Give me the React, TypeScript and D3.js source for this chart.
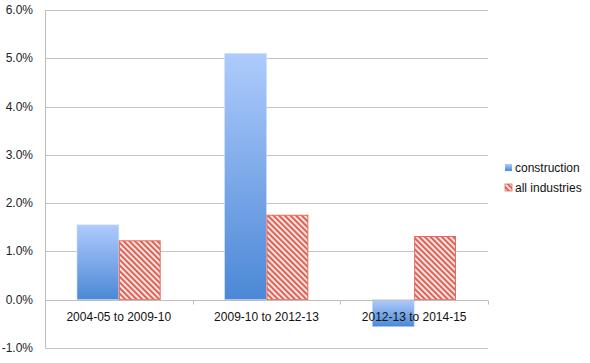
import * as d3 from 'd3';
import { useEffect, useRef } from 'react';

const categories = ['2004-05 to 2009-10', '2009-10 to 2012-13', '2012-13 to 2014-15'];
const construction = [1.55, 5.1, -0.56];
const allIndustries = [1.23, 1.76, 1.32];
const yTicks = [-1, 0, 1, 2, 3, 4, 5, 6];
const seriesNames = ['construction', 'all industries'];

const App = () => {
  const ref = useRef<SVGSVGElement>(null);

  useEffect(() => {
    const svg = d3.select(ref.current);
    svg.selectAll('*').remove();

    const left = 45, right = 488, top = 10, bottom = 348;
    const font = '"Liberation Sans", Arial, sans-serif';

    const defs = svg.append('defs');
    const grad = defs
      .append('linearGradient')
      .attr('id', 'blueGrad')
      .attr('x1', 0).attr('y1', 0).attr('x2', 0).attr('y2', 1);
    grad.append('stop').attr('offset', '0%').attr('stop-color', '#aecbfc');
    grad.append('stop').attr('offset', '100%').attr('stop-color', '#4b88d6');

    const pat = defs
      .append('pattern')
      .attr('id', 'hatch')
      .attr('patternUnits', 'userSpaceOnUse')
      .attr('width', 4)
      .attr('height', 4)
      .attr('patternTransform', 'rotate(-45)');
    pat.append('rect').attr('width', 4).attr('height', 4).attr('fill', '#fbe6e2');
    pat.append('rect').attr('width', 1.8).attr('height', 4).attr('fill', '#dc5448');

    const x = d3.scaleBand().domain(categories).range([left, right]).paddingInner(0).paddingOuter(0);
    const y = d3.scaleLinear().domain([-1, 6]).range([bottom, top]);

    // gridlines
    svg
      .append('g')
      .selectAll('line')
      .data(yTicks)
      .join('line')
      .attr('x1', left)
      .attr('x2', right)
      .attr('y1', (d) => Math.round(y(d)) + 0.5)
      .attr('y2', (d) => Math.round(y(d)) + 0.5)
      .attr('stroke', '#c4c4c4')
      .attr('stroke-width', 1);

    svg
      .append('line')
      .attr('x1', left + 0.5)
      .attr('x2', left + 0.5)
      .attr('y1', top)
      .attr('y2', bottom)
      .attr('stroke', '#bdbdbd');

    // y labels
    svg
      .append('g')
      .selectAll('text')
      .data(yTicks)
      .join('text')
      .attr('x', 33)
      .attr('y', (d) => y(d) + 4)
      .attr('text-anchor', 'end')
      .attr('font-family', font)
      .attr('font-size', 12)
      .attr('fill', '#222')
      .text((d) => d.toFixed(1) + '%');

    const groupPad = 32;
    const bw = (x.bandwidth() - groupPad * 2) / 2;

    // construction bars
    svg
      .append('g')
      .selectAll('rect')
      .data(construction)
      .join('rect')
      .attr('x', (d, i) => x(categories[i])! + groupPad)
      .attr('y', (d) => y(Math.max(0, d)))
      .attr('width', bw)
      .attr('height', (d) => Math.abs(y(d) - y(0)))
      .attr('fill', 'url(#blueGrad)')
      .attr('stroke', '#c8dcf8')
      .attr('stroke-width', 0.6);

    // all industries bars
    svg
      .append('g')
      .selectAll('rect')
      .data(allIndustries)
      .join('rect')
      .attr('x', (d, i) => x(categories[i])! + groupPad + bw + 0.5)
      .attr('y', (d) => y(Math.max(0, d)) + 0.5)
      .attr('width', bw - 1)
      .attr('height', (d) => Math.abs(y(d) - y(0)) - 0.5)
      .attr('fill', 'url(#hatch)')
      .attr('stroke', '#e8685c')
      .attr('stroke-width', 1);

    // zero axis line and ticks
    const y0 = Math.round(y(0)) + 0.5;
    svg
      .append('line')
      .attr('x1', left)
      .attr('x2', right)
      .attr('y1', y0)
      .attr('y2', y0)
      .attr('stroke', '#bdbdbd');
    svg
      .append('g')
      .selectAll('line')
      .data(categories.slice(1).concat(['end']))
      .join('line')
      .attr('x1', (d, i) => Math.round(left + x.bandwidth() * (i + 1)) + 0.5)
      .attr('x2', (d, i) => Math.round(left + x.bandwidth() * (i + 1)) + 0.5)
      .attr('y1', y0)
      .attr('y2', y0 + 4)
      .attr('stroke', '#bdbdbd');

    // x labels
    svg
      .append('g')
      .selectAll('text')
      .data(categories)
      .join('text')
      .attr('x', (d) => x(d)! + x.bandwidth() / 2)
      .attr('y', 321)
      .attr('text-anchor', 'middle')
      .attr('font-family', font)
      .attr('font-size', 12)
      .attr('fill', '#111')
      .text((d) => d);

    // legend
    const legend = svg.append('g');
    const fills = ['url(#blueGrad)', 'url(#hatch)'];
    seriesNames.forEach((name, i) => {
      const ly = 164 + i * 20;
      legend
        .append('rect')
        .attr('x', 505)
        .attr('y', ly)
        .attr('width', 7)
        .attr('height', 7)
        .attr('fill', fills[i])
        .attr('stroke', i === 1 ? '#e8685c' : 'none')
        .attr('stroke-width', 0.8);
      legend
        .append('text')
        .attr('x', 515)
        .attr('y', ly + 8)
        .attr('font-family', font)
        .attr('font-size', 12)
        .attr('fill', '#111')
        .text(name);
    });
  }, []);

  return (
    <svg
      ref={ref}
      width={590}
      height={363}
      style={{ position: 'absolute', left: 0, top: 0, background: '#fff' }}
    ></svg>
  );
};

export default App;
